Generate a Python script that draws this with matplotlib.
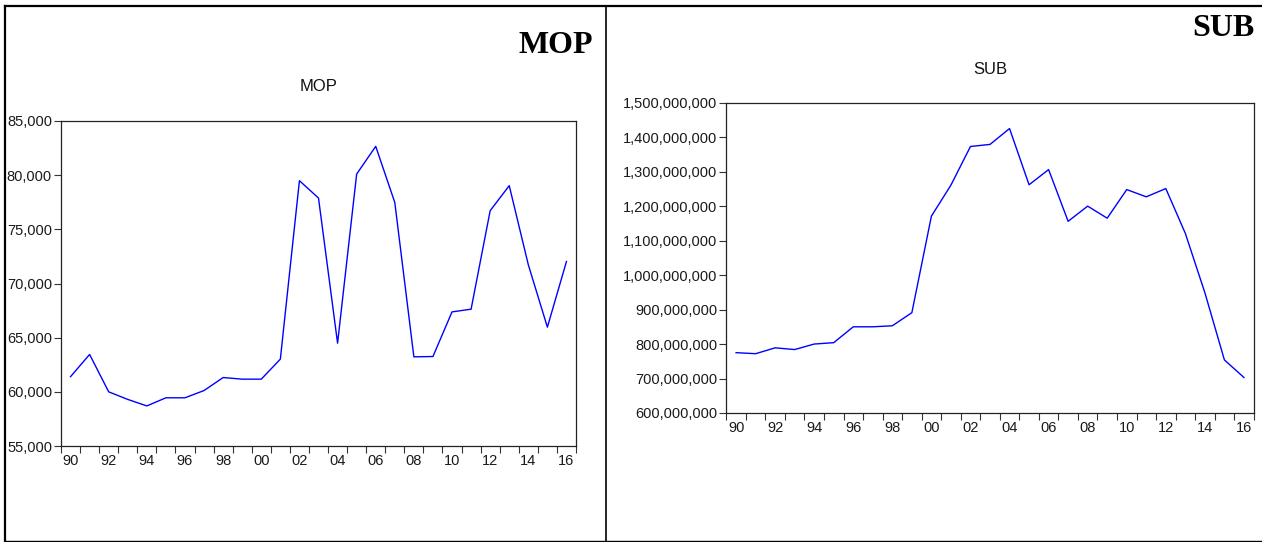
import matplotlib
matplotlib.use("Agg")
import matplotlib.pyplot as plt
from matplotlib.lines import Line2D
from matplotlib.ticker import FuncFormatter, FixedLocator

# Annual series, 1990-2016
years = list(range(1990, 2017))
mop = [61400, 63450, 60000, 59300, 58700, 59450, 59450, 60120, 61320, 61170,
       61170, 63020, 79490, 77890, 64490, 80100, 82660, 77480, 63230, 63260,
       67380, 67630, 76720, 79030, 71730, 65970, 72030]
sub = [775_000_000, 772_000_000, 789_000_000, 784_000_000, 800_000_000,
       804_000_000, 850_000_000, 850_000_000, 853_000_000, 891_000_000,
       1_171_000_000, 1_261_000_000, 1_373_000_000, 1_379_000_000, 1_425_000_000,
       1_262_000_000, 1_306_000_000, 1_156_000_000, 1_200_000_000, 1_165_000_000,
       1_248_000_000, 1_227_000_000, 1_251_000_000, 1_121_000_000, 949_000_000,
       754_000_000, 703_000_000]

mop_ticks = [55000, 60000, 65000, 70000, 75000, 80000, 85000]
sub_ticks = [600_000_000 + 100_000_000 * i for i in range(10)]
year_labels = [y for y in years if y % 2 == 0]

W, H = 1262, 542
fig = plt.figure(figsize=(W / 100, H / 100), dpi=100)
fig.patch.set_facecolor("white")

SANS = "Liberation Sans"
SERIF = "Liberation Serif"


def rect(x0, y0, x1, y1):
    return [x0 / W, 1 - y1 / H, (x1 - x0) / W, (y1 - y0) / H]


def style_axis(ax, values, yticks, title, title_y):
    ax.plot(years, values, color="#0000ff", lw=1.0)
    ax.set_xlim(years[0] - 0.5, years[-1] + 0.5)
    ax.set_ylim(yticks[0], yticks[-1])
    # tick marks sit between years, labels centred on even years
    bounds = [y - 0.5 for y in years] + [years[-1] + 0.5]
    ax.xaxis.set_major_locator(FixedLocator(bounds))
    ax.xaxis.set_major_formatter(FuncFormatter(lambda v, p: ""))
    ax.xaxis.set_minor_locator(FixedLocator(year_labels))
    ax.xaxis.set_minor_formatter(FuncFormatter(lambda v, p: f"{int(round(v)) % 100:02d}"))
    ax.tick_params(axis="x", which="major", direction="out", length=5, width=0.8, color="#333333")
    ax.tick_params(axis="x", which="minor", length=0, pad=6.0, labelsize=10.5)
    ax.set_yticks(yticks)
    ax.yaxis.set_major_formatter(FuncFormatter(lambda v, p: f"{int(v):,}"))
    ax.tick_params(axis="y", direction="out", length=5, width=0.8, color="#333333",
                   labelsize=10.5, pad=1.5)
    for lab in ax.get_xticklabels(which="both") + ax.get_yticklabels():
        lab.set_family(SANS)
        lab.set_color("#1a1a1a")
    for sp in ax.spines.values():
        sp.set_linewidth(0.9)
        sp.set_color("#222222")
    bb = ax.get_position()
    fig.text(bb.x0 + bb.width / 2, 1 - title_y / H, title, ha="center", va="center",
             family=SANS, fontsize=12, color="#111111")


ax1 = fig.add_axes(rect(61, 121, 576, 446))
style_axis(ax1, mop, mop_ticks, "MOP", 86.5)

ax2 = fig.add_axes(rect(726.3, 102.7, 1253.7, 413))
style_axis(ax2, sub, sub_ticks, "SUB", 69.5)

# Large panel headings
fig.text(593 / W, 1 - 53 / H, "MOP", ha="right", va="baseline",
         family=SERIF, fontweight="bold", fontsize=23, color="black")
fig.text(1255 / W, 1 - 36 / H, "SUB", ha="right", va="baseline",
         family=SERIF, fontweight="bold", fontsize=23, color="black")


def fline(x0, y0, x1, y1, lw):
    fig.add_artist(Line2D([x0 / W, x1 / W], [1 - y0 / H, 1 - y1 / H],
                          transform=fig.transFigure, color="black", lw=lw,
                          solid_capstyle="projecting"))


# Table frame around the two panels
fline(5, 5.5, W, 5.5, 1.6)
fline(5, 5.5, 5, 541, 1.6)
fline(605.5, 5.5, 605.5, 541, 1.2)
fline(5, 541, W, 541, 1.0)

fig.savefig("out.png", dpi=100, facecolor="white")
